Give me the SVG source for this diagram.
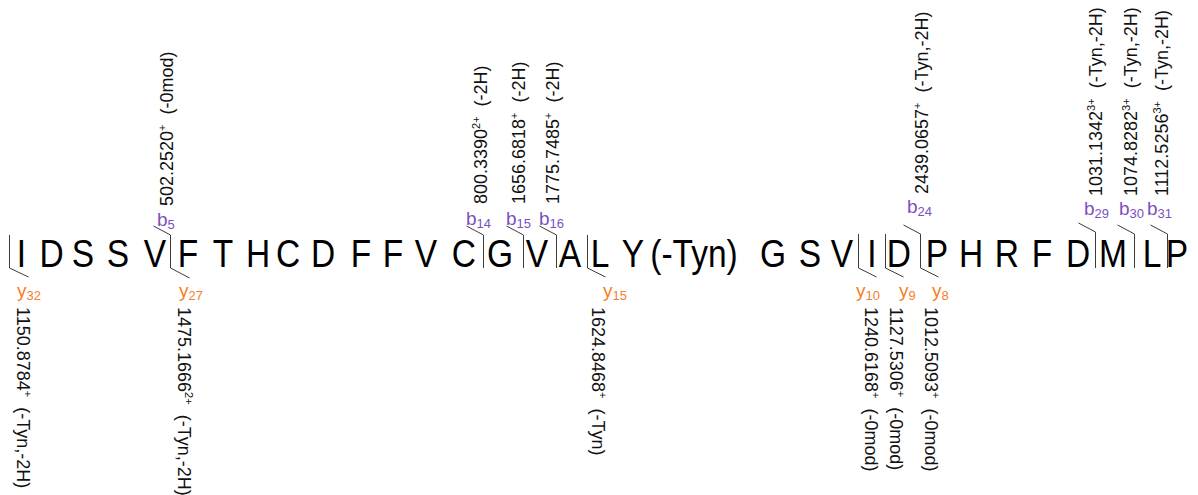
<svg xmlns="http://www.w3.org/2000/svg" width="1198" height="495" viewBox="0 0 1198 495">
  <style>
    .res { font-family: "Liberation Sans", Arial, sans-serif; font-size: 39px; fill: #000; text-anchor: middle; }
    .mass { font-family: "Liberation Sans", Arial, sans-serif; font-size: 18px; fill: #111; }
    .sup { font-size: 11px; }
    .bl { font-family: "Liberation Sans", Arial, sans-serif; font-size: 19px; fill: #7d4fbd; }
    .yl { font-family: "Liberation Sans", Arial, sans-serif; font-size: 19px; fill: #f5802a; }
    .sub { font-size: 13px; }
    .cut { fill: none; stroke: #3c3c3c; stroke-width: 1; }
  </style>
  <rect width="1198" height="495" fill="#fff"/>

  <!-- peptide sequence, narrowed horizontally -->
  <g id="sequence" transform="scale(0.86 1)">
    <text class="res" x="25.0" y="267">I</text>
    <text class="res" x="60.1" y="267">D</text>
    <text class="res" x="96.5" y="267">S</text>
    <text class="res" x="137.2" y="267">S</text>
    <text class="res" x="180.2" y="267">V</text>
    <text class="res" x="218.6" y="267">F</text>
    <text class="res" x="259.3" y="267">T</text>
    <text class="res" x="300.0" y="267">H</text>
    <text class="res" x="334.9" y="267">C</text>
    <text class="res" x="375.6" y="267">D</text>
    <text class="res" x="419.8" y="267">F</text>
    <text class="res" x="457.0" y="267">F</text>
    <text class="res" x="495.3" y="267">V</text>
    <text class="res" x="539.5" y="267">C</text>
    <text class="res" x="581.4" y="267">G</text>
    <text class="res" x="624.4" y="267">V</text>
    <text class="res" x="662.8" y="267">A</text>
    <text class="res" x="697.7" y="267">L</text>
    <text class="res" x="736.0" y="267">Y</text>
    <text class="res" x="807.0" y="267">(-Tyn)</text>
    <text class="res" x="898.8" y="267">G</text>
    <text class="res" x="941.9" y="267">S</text>
    <text class="res" x="979.1" y="267">V</text>
    <text class="res" x="1014.0" y="267">I</text>
    <text class="res" x="1045.3" y="267">D</text>
    <text class="res" x="1089.5" y="267">P</text>
    <text class="res" x="1129.1" y="267">H</text>
    <text class="res" x="1170.9" y="267">R</text>
    <text class="res" x="1211.6" y="267">F</text>
    <text class="res" x="1253.5" y="267">D</text>
    <text class="res" x="1294.2" y="267">M</text>
    <text class="res" x="1339.5" y="267">L</text>
    <text class="res" x="1368.6" y="267">P</text>
  </g>

  <!-- cleavage marks: b ions hook up-left, y ions hook down-right -->
  <g id="connectors">
    <path class="cut" d="M153.5,226 L170.5,235 L170.5,268"/>
    <path class="cut" d="M466.5,226 L483.5,235 L483.5,268"/>
    <path class="cut" d="M506.5,226 L523.5,235 L523.5,268"/>
    <path class="cut" d="M539.5,226 L556.5,235 L556.5,268"/>
    <path class="cut" d="M903.5,225 L920.5,234 L920.5,268"/>
    <path class="cut" d="M1078.5,223 L1095.5,232 L1095.5,268"/>
    <path class="cut" d="M1117.5,225 L1134.5,234 L1134.5,268"/>
    <path class="cut" d="M1150.5,225 L1167.5,234 L1167.5,268"/>

    <path class="cut" d="M9.5,235 L9.5,268 L28.5,277"/>
    <path class="cut" d="M170.5,235 L170.5,268 L189.5,278"/>
    <path class="cut" d="M587.5,235 L587.5,268 L605.5,277"/>
    <path class="cut" d="M858.5,234 L858.5,268 L876.5,277"/>
    <path class="cut" d="M885.5,234 L885.5,268 L903.5,277"/>
    <path class="cut" d="M920.5,234 L920.5,268 L938.5,277"/>
  </g>

  <!-- b ions -->
  <g id="b5">
    <text class="bl" x="157" y="226">b<tspan class="sub" dy="2.5">5</tspan></text>
    <text class="mass" transform="translate(173,206) rotate(-90)">502.2520<tspan class="sup" dy="-7">+</tspan><tspan dy="7" dx="10">(-0mod)</tspan></text>
  </g>
  <g id="b14">
    <text class="bl" x="466" y="225">b<tspan class="sub" dy="2.5">14</tspan></text>
    <text class="mass" transform="translate(487,204) rotate(-90)">800.3390<tspan class="sup" dy="-7">2+</tspan><tspan dy="7" dx="10">(-2H)</tspan></text>
  </g>
  <g id="b15">
    <text class="bl" x="506" y="225">b<tspan class="sub" dy="2.5">15</tspan></text>
    <text class="mass" transform="translate(525,204) rotate(-90)">1656.6818<tspan class="sup" dy="-7">+</tspan><tspan dy="7" dx="10">(-2H)</tspan></text>
  </g>
  <g id="b16">
    <text class="bl" x="539" y="225">b<tspan class="sub" dy="2.5">16</tspan></text>
    <text class="mass" transform="translate(558.5,204) rotate(-90)">1775.7485<tspan class="sup" dy="-7">+</tspan><tspan dy="7" dx="10">(-2H)</tspan></text>
  </g>
  <g id="b24">
    <text class="bl" x="907" y="213">b<tspan class="sub" dy="3">24</tspan></text>
    <text class="mass" transform="translate(928,194) rotate(-90)">2439.0657<tspan class="sup" dy="-7">+</tspan><tspan dy="7" dx="10">(-Tyn,-2H)</tspan></text>
  </g>
  <g id="b29">
    <text class="bl" x="1084" y="215">b<tspan class="sub" dy="3">29</tspan></text>
    <text class="mass" transform="translate(1102,196) rotate(-90)">1031.1342<tspan class="sup" dy="-7">3+</tspan><tspan dy="7" dx="10">(-Tyn,-2H)</tspan></text>
  </g>
  <g id="b30">
    <text class="bl" x="1119" y="215">b<tspan class="sub" dy="3">30</tspan></text>
    <text class="mass" transform="translate(1137,196) rotate(-90)">1074.8282<tspan class="sup" dy="-7">3+</tspan><tspan dy="7" dx="10">(-Tyn,-2H)</tspan></text>
  </g>
  <g id="b31">
    <text class="bl" x="1147" y="215">b<tspan class="sub" dy="3">31</tspan></text>
    <text class="mass" transform="translate(1168,196) rotate(-90)">1112.5256<tspan class="sup" dy="-7">3+</tspan><tspan dy="7" dx="10">(-Tyn,-2H)</tspan></text>
  </g>

  <!-- y ions -->
  <g id="y32">
    <text class="yl" x="17" y="297">y<tspan class="sub" dy="3">32</tspan></text>
    <text class="mass" transform="translate(17,307) rotate(90)">1150.8784<tspan class="sup" dy="-7">+</tspan><tspan dy="7" dx="10">(-Tyn,-2H)</tspan></text>
  </g>
  <g id="y27">
    <text class="yl" x="179" y="297">y<tspan class="sub" dy="3">27</tspan></text>
    <text class="mass" transform="translate(178,307) rotate(90)">1475.1666<tspan class="sup" dy="-7">2+</tspan><tspan dy="7" dx="10">(-Tyn,-2H)</tspan></text>
  </g>
  <g id="y15">
    <text class="yl" x="603" y="297">y<tspan class="sub" dy="3">15</tspan></text>
    <text class="mass" transform="translate(592,307) rotate(90)">1624.8468<tspan class="sup" dy="-7">+</tspan><tspan dy="7" dx="10">(-Tyn)</tspan></text>
  </g>
  <g id="y10">
    <text class="yl" x="856" y="297">y<tspan class="sub" dy="3">10</tspan></text>
    <text class="mass" transform="translate(865,307) rotate(90)">1240.6168<tspan class="sup" dy="-7">+</tspan><tspan dy="7" dx="10">(-0mod)</tspan></text>
  </g>
  <g id="y9">
    <text class="yl" x="899" y="297">y<tspan class="sub" dy="3">9</tspan></text>
    <text class="mass" transform="translate(890,307) rotate(90)">1127.5306<tspan class="sup" dy="-7">+</tspan><tspan dy="7" dx="10">(-0mod)</tspan></text>
  </g>
  <g id="y8">
    <text class="yl" x="932" y="297">y<tspan class="sub" dy="3">8</tspan></text>
    <text class="mass" transform="translate(925,307) rotate(90)">1012.5093<tspan class="sup" dy="-7">+</tspan><tspan dy="7" dx="10">(-0mod)</tspan></text>
  </g>
</svg>
